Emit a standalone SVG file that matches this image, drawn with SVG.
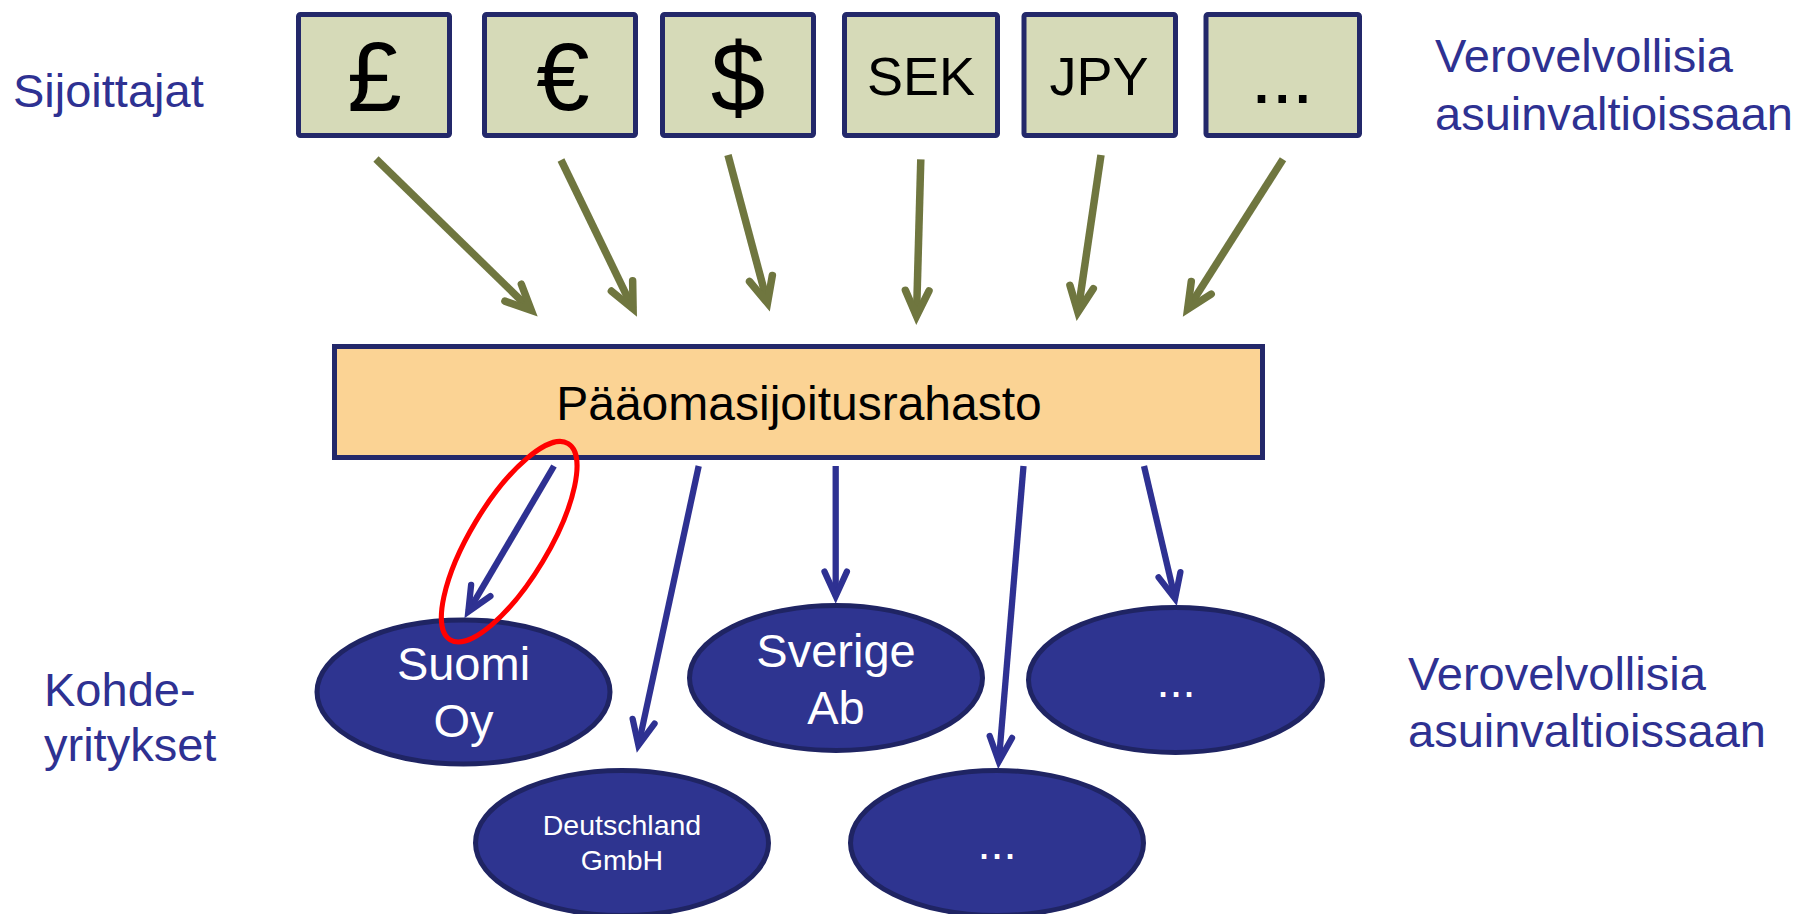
<svg xmlns="http://www.w3.org/2000/svg" width="1802" height="914" viewBox="0 0 1802 914">
<defs>
<style>
.cur{fill:#d6dab8;stroke:#23286a;stroke-width:5}
.cur-t{font-family:"Liberation Sans",Arial,sans-serif;fill:#000;text-anchor:middle}
.fund{fill:#fbd394;stroke:#23286a;stroke-width:5}
.co{fill:#2e3490;stroke:#1f2463;stroke-width:5}
.co-t{font-family:"Liberation Sans",Arial,sans-serif;fill:#fff;text-anchor:middle}
.lbl{font-family:"Liberation Sans",Arial,sans-serif;fill:#2e3192;font-size:47px}
.g{stroke:#6f763f;stroke-width:7.5;fill:none;marker-end:url(#ag)}
.b{stroke:#2e3192;stroke-width:6.3;fill:none;marker-end:url(#ab)}
</style>
<marker id="ag" markerUnits="userSpaceOnUse" orient="auto" style="overflow:visible" markerWidth="1" markerHeight="1" refX="0" refY="0">
<path d="M -25.4 -11.8 L 0 0 L -25.4 11.8" fill="none" stroke="#6f763f" stroke-width="7.5" stroke-linecap="round" stroke-linejoin="miter"/>
</marker>
<marker id="ab" markerUnits="userSpaceOnUse" orient="auto" style="overflow:visible" markerWidth="1" markerHeight="1" refX="0" refY="0">
<path d="M -24.6 -11.2 L 0 0 L -24.6 11.2" fill="none" stroke="#2e3192" stroke-width="6.3" stroke-linecap="round" stroke-linejoin="miter"/>
</marker>
</defs>
<rect width="1802" height="914" fill="#fff"/>

<g id="labels">
<text class="lbl" x="13" y="107">Sijoittajat</text>
<text class="lbl" x="44" y="706">Kohde-</text>
<text class="lbl" x="44" y="761">yritykset</text>
<text class="lbl" x="1435" y="72">Verovelvollisia</text>
<text class="lbl" x="1435" y="130">asuinvaltioissaan</text>
<text class="lbl" x="1408" y="690">Verovelvollisia</text>
<text class="lbl" x="1408" y="747">asuinvaltioissaan</text>
</g>

<g id="gbp"><rect class="cur" x="298.5" y="14.5" width="151" height="121" rx="2"/><text class="cur-t" x="374.5" y="111" font-size="98">£</text></g>
<g id="eur"><rect class="cur" x="484.5" y="14.5" width="151" height="121" rx="2"/><text class="cur-t" x="563" y="110" font-size="96">€</text></g>
<g id="usd"><rect class="cur" x="662.5" y="14.5" width="151" height="121" rx="2"/><text class="cur-t" x="738" y="111" font-size="98">$</text></g>
<g id="sek"><rect class="cur" x="844.5" y="14.5" width="153" height="121" rx="2"/><text class="cur-t" x="921" y="95" font-size="54">SEK</text></g>
<g id="jpy"><rect class="cur" x="1024" y="14.5" width="151.5" height="121" rx="2"/><text class="cur-t" x="1099" y="95" font-size="54">JPY</text></g>
<g id="more-cur"><rect class="cur" x="1206" y="14.5" width="153.5" height="121" rx="2"/><text class="cur-t" x="1285" y="103" font-size="54" font-weight="bold" letter-spacing="5.7">...</text></g>

<g id="fund"><rect class="fund" x="334.5" y="346.5" width="928" height="111"/><text class="cur-t" x="799" y="420" font-size="48">Pääomasijoitusrahasto</text></g>

<g id="suomi"><ellipse class="co" cx="463.5" cy="692" rx="146.5" ry="72"/><text class="co-t" font-size="47" x="463.5" y="680">Suomi</text><text class="co-t" font-size="47" x="463.5" y="737">Oy</text></g>
<g id="sverige"><ellipse class="co" cx="836" cy="678" rx="146.5" ry="72.5"/><text class="co-t" font-size="47" x="836" y="667">Sverige</text><text class="co-t" font-size="47" x="836" y="724">Ab</text></g>
<g id="deutschland"><ellipse class="co" cx="622" cy="843" rx="146.5" ry="72.5"/><text class="co-t" font-size="28.5" x="622" y="835">Deutschland</text><text class="co-t" font-size="28.5" x="622" y="870">GmbH</text></g>
<g id="more-co-1"><ellipse class="co" cx="997" cy="843" rx="146.5" ry="72.5"/><text class="co-t" font-size="47" x="997" y="859">...</text></g>
<g id="more-co-2"><ellipse class="co" cx="1175.5" cy="680" rx="147" ry="72.5"/><text class="co-t" font-size="47" x="1176" y="697">...</text></g>

<g id="connectors">
<line class="g" x1="376" y1="159" x2="531.3" y2="310.4"/>
<line class="g" x1="561" y1="160" x2="633.1" y2="308.8"/>
<line class="g" x1="728" y1="155" x2="767.5" y2="303"/>
<line class="g" x1="920.8" y1="159.3" x2="916.5" y2="316"/>
<line class="g" x1="1101" y1="155" x2="1077.9" y2="312.1"/>
<line class="g" x1="1283" y1="159.3" x2="1187.6" y2="309.2"/>
<line class="b" x1="554" y1="466" x2="468.3" y2="611.7"/>
<line class="b" x1="698.7" y1="466" x2="638.4" y2="745.3"/>
<line class="b" x1="835.7" y1="466" x2="835.7" y2="596.2"/>
<line class="b" x1="1023.5" y1="466" x2="998.8" y2="761.5"/>
<line class="b" x1="1144" y1="466" x2="1175.1" y2="598.7"/>
</g>

<g id="highlight"><ellipse cx="509.2" cy="541.7" rx="39" ry="114.5" transform="rotate(31 509.2 541.7)" fill="none" stroke="#ff0000" stroke-width="5"/></g>
</svg>
